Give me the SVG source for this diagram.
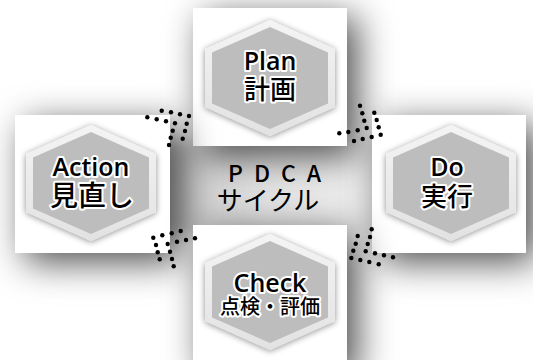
<svg xmlns="http://www.w3.org/2000/svg" width="533" height="360" viewBox="0 0 533 360">
<defs>
<filter id="cardShadow" x="-50%" y="-50%" width="200%" height="200%"><feDropShadow dx="10" dy="9" stdDeviation="18" flood-color="#000" flood-opacity="0.7"/></filter>
<filter id="hexGlow" x="-20%" y="-20%" width="140%" height="140%"><feDropShadow dx="0" dy="1" stdDeviation="3" flood-color="#000" flood-opacity="0.45"/></filter>
<filter id="soft" x="-20%" y="-20%" width="140%" height="140%"><feGaussianBlur stdDeviation="8"/></filter>
<linearGradient id="rim" x1="0" y1="0" x2="0" y2="1"><stop offset="0" stop-color="#f4f4f4"/><stop offset="1" stop-color="#e2e2e2"/></linearGradient>
<linearGradient id="mid" x1="0" y1="0" x2="1" y2="0"><stop offset="0" stop-color="#b8b8b8"/><stop offset="0.5" stop-color="#dcdcdc"/><stop offset="1" stop-color="#ececec"/></linearGradient>
<polygon id="hexOuter" points="0,-58 65,-29 65,29 0,58 -65,29 -65,-29"/>
<polygon id="hexInner" points="0,-51 58,-25.5 58,25.5 0,51 -58,25.5 -58,-25.5"/>
<style>
.card{fill:#fff;filter:url(#cardShadow)}
.rim{fill:url(#rim);filter:url(#hexGlow)}
.core{fill:#bdbdbd}
.lbl{text-anchor:middle;fill:#000;stroke:#fff;stroke-width:4;stroke-linejoin:round;paint-order:stroke}
.en{font-family:"Open Sans","Noto Sans",sans-serif;font-size:25px;font-weight:600}
.jp{font-family:"Noto Sans CJK JP",sans-serif;font-size:26px;font-weight:500}
.ctr{font-family:"Noto Sans CJK JP","Noto Sans",sans-serif;fill:#000}
.dot{fill:#000}
</style>
</defs>
<rect width="533" height="360" fill="#fff"/>
<rect x="165" y="140" width="215" height="95" fill="url(#mid)" filter="url(#soft)" opacity="0.8"/>

<g id="plan">
<rect class="card" x="193" y="8" width="154" height="138"/>
<use href="#hexOuter" class="rim" x="270" y="78"/>
<use href="#hexInner" class="core" x="270" y="78"/>
<text class="lbl en" x="270" y="70">Plan</text>
<text class="lbl jp" x="270" y="99">計画</text>
</g>

<g id="action">
<rect class="card" x="15" y="115" width="155" height="138"/>
<use href="#hexOuter" class="rim" x="91" y="183"/>
<use href="#hexInner" class="core" x="91" y="183"/>
<text class="lbl en" x="91" y="176">Action</text>
<text class="lbl jp" x="92" y="206" style="font-size:28px">見直し</text>
</g>

<g id="do">
<rect class="card" x="372" y="115" width="154" height="138"/>
<use href="#hexOuter" class="rim" x="451" y="183"/>
<use href="#hexInner" class="core" x="451" y="183"/>
<text class="lbl en" x="447" y="176">Do</text>
<text class="lbl jp" x="447" y="206">実行</text>
</g>

<g id="check">
<rect class="card" x="193" y="225" width="154" height="145"/>
<use href="#hexOuter" class="rim" x="270" y="292"/>
<use href="#hexInner" class="core" x="270" y="292"/>
<text class="lbl en" x="270" y="292">Check</text>
<text class="lbl jp" x="270" y="314" style="font-size:20px">点検・評価</text>
</g>

<g id="center">
<text class="ctr" x="228" y="182" style="font-size:23px;letter-spacing:11px;font-weight:500">PDCA</text>
<text class="ctr" x="268" y="210" style="font-size:26px;text-anchor:middle;font-weight:400">サイクル</text>
</g>

<g id="connectors">
<g class="dot">
<circle cx="161.7" cy="110.7" r="2.2"/><circle cx="171" cy="112.3" r="2.2"/><circle cx="180" cy="114.3" r="2.2"/><circle cx="189" cy="116" r="2.2"/>
<circle cx="147.3" cy="117.3" r="2.2"/><circle cx="156.7" cy="119.3" r="2.2"/><circle cx="166" cy="121.3" r="2.2"/><circle cx="175" cy="123.3" r="2.2"/><circle cx="186.7" cy="123.7" r="2.2"/>
<circle cx="172.7" cy="130.7" r="2.2"/><circle cx="185" cy="131" r="2.2"/><circle cx="170.7" cy="137.7" r="2.2"/><circle cx="182.7" cy="138.7" r="2.2"/><circle cx="169" cy="145" r="2.2"/>
</g>
<g class="dot">
<circle cx="360" cy="105.7" r="2.2"/><circle cx="362.3" cy="113.3" r="2.2"/><circle cx="374.3" cy="112.7" r="2.2"/><circle cx="364.3" cy="120.7" r="2.2"/><circle cx="376.7" cy="120" r="2.2"/>
<circle cx="366.7" cy="128" r="2.2"/><circle cx="378.7" cy="127.3" r="2.2"/><circle cx="339.3" cy="133.3" r="2.2"/><circle cx="348.3" cy="132" r="2.2"/><circle cx="357.7" cy="130.3" r="2.2"/>
<circle cx="380.7" cy="134.7" r="2.2"/><circle cx="354" cy="141" r="2.2"/><circle cx="362.7" cy="139" r="2.2"/><circle cx="371.7" cy="137" r="2.2"/>
</g>
<g class="dot">
<circle cx="180.7" cy="231" r="2.2"/><circle cx="171.7" cy="233.3" r="2.2"/><circle cx="162.3" cy="235.3" r="2.2"/><circle cx="153.3" cy="237.7" r="2.2"/>
<circle cx="195" cy="238.3" r="2.2"/><circle cx="186" cy="240" r="2.2"/><circle cx="177" cy="241.7" r="2.2"/><circle cx="167.7" cy="244" r="2.2"/><circle cx="156" cy="245" r="2.2"/>
<circle cx="170" cy="251.7" r="2.2"/><circle cx="157.7" cy="252.3" r="2.2"/><circle cx="172" cy="259" r="2.2"/><circle cx="159.7" cy="259.3" r="2.2"/><circle cx="173.7" cy="266.3" r="2.2"/>
</g>
<g class="dot">
<circle cx="371.7" cy="229.3" r="2.2"/><circle cx="357.7" cy="236" r="2.2"/><circle cx="370" cy="237" r="2.2"/><circle cx="355.7" cy="243.7" r="2.2"/><circle cx="367.7" cy="244" r="2.2"/>
<circle cx="353.3" cy="250.7" r="2.2"/><circle cx="365.7" cy="251.3" r="2.2"/><circle cx="375" cy="253.3" r="2.2"/><circle cx="384" cy="255.3" r="2.2"/><circle cx="393" cy="257.3" r="2.2"/>
<circle cx="351.3" cy="258" r="2.2"/><circle cx="360.3" cy="260" r="2.2"/><circle cx="369.3" cy="262" r="2.2"/><circle cx="378.7" cy="264.3" r="2.2"/>
</g>
</g>
</svg>
